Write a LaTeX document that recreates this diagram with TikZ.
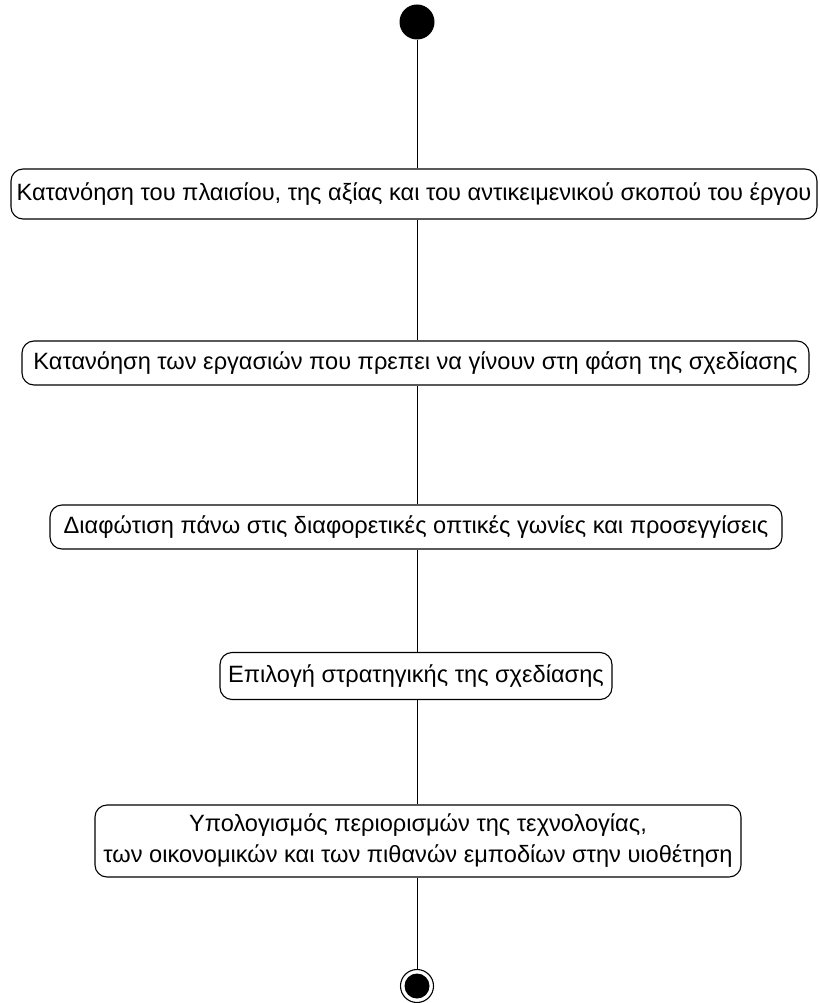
\documentclass[tikz,border=0pt]{standalone}
\usepackage{fontspec}
\setmainfont{Liberation Sans}
\begin{document}
\begin{tikzpicture}[x=1pt,y=-1pt,
  act/.style={draw, rounded corners=12pt, line width=1.1pt, align=center,
    inner sep=0pt, font=\fontsize{23.6}{31}\selectfont},
  flow/.style={line width=0.9pt},
  startnode/.style={circle, fill, inner sep=0pt, minimum size=35pt},
  endnode/.style={circle, draw, line width=1.1pt, inner sep=0pt, minimum size=33pt,
    path picture={\fill (path picture bounding box.center) circle (12.5pt);}}]
\useasboundingbox (0,0) rectangle (819,1003);

\node[startnode] (s) at (417,22) {};
\node[act, minimum width=806pt, minimum height=50pt] (a1) at (414,194)
  {Κατανόηση του πλαισίου, της αξίας και του αντικειμενικού σκοπού του έργου};
\node[act, minimum width=787pt, minimum height=44pt] (a2) at (415.5,363)
  {Κατανόηση των εργασιών που πρεπει να γίνουν στη φάση της σχεδίασης};
\node[act, minimum width=732pt, minimum height=44pt] (a3) at (416,527)
  {Διαφώτιση πάνω στις διαφορετικές οπτικές γωνίες και προσεγγίσεις};
\node[act, minimum width=392pt, minimum height=47pt] (a4) at (416,676)
  {Επιλογή στρατηγικής της σχεδίασης};
\node[act, minimum width=646pt, minimum height=72pt] (a5) at (418,841)
  {Υπολογισμός περιορισμών της τεχνολογίας,\\των οικονομικών και των πιθανών εμποδίων στην υιοθέτηση};
\node[endnode] (e) at (417,986) {};

\draw[flow] (s.south) -- (s.south |- a1.north);
\draw[flow] (s.south |- a1.south) -- (s.south |- a2.north);
\draw[flow] (s.south |- a2.south) -- (s.south |- a3.north);
\draw[flow] (s.south |- a3.south) -- (s.south |- a4.north);
\draw[flow] (s.south |- a4.south) -- (s.south |- a5.north);
\draw[flow] (s.south |- a5.south) -- (e.north);
\end{tikzpicture}
\end{document}
